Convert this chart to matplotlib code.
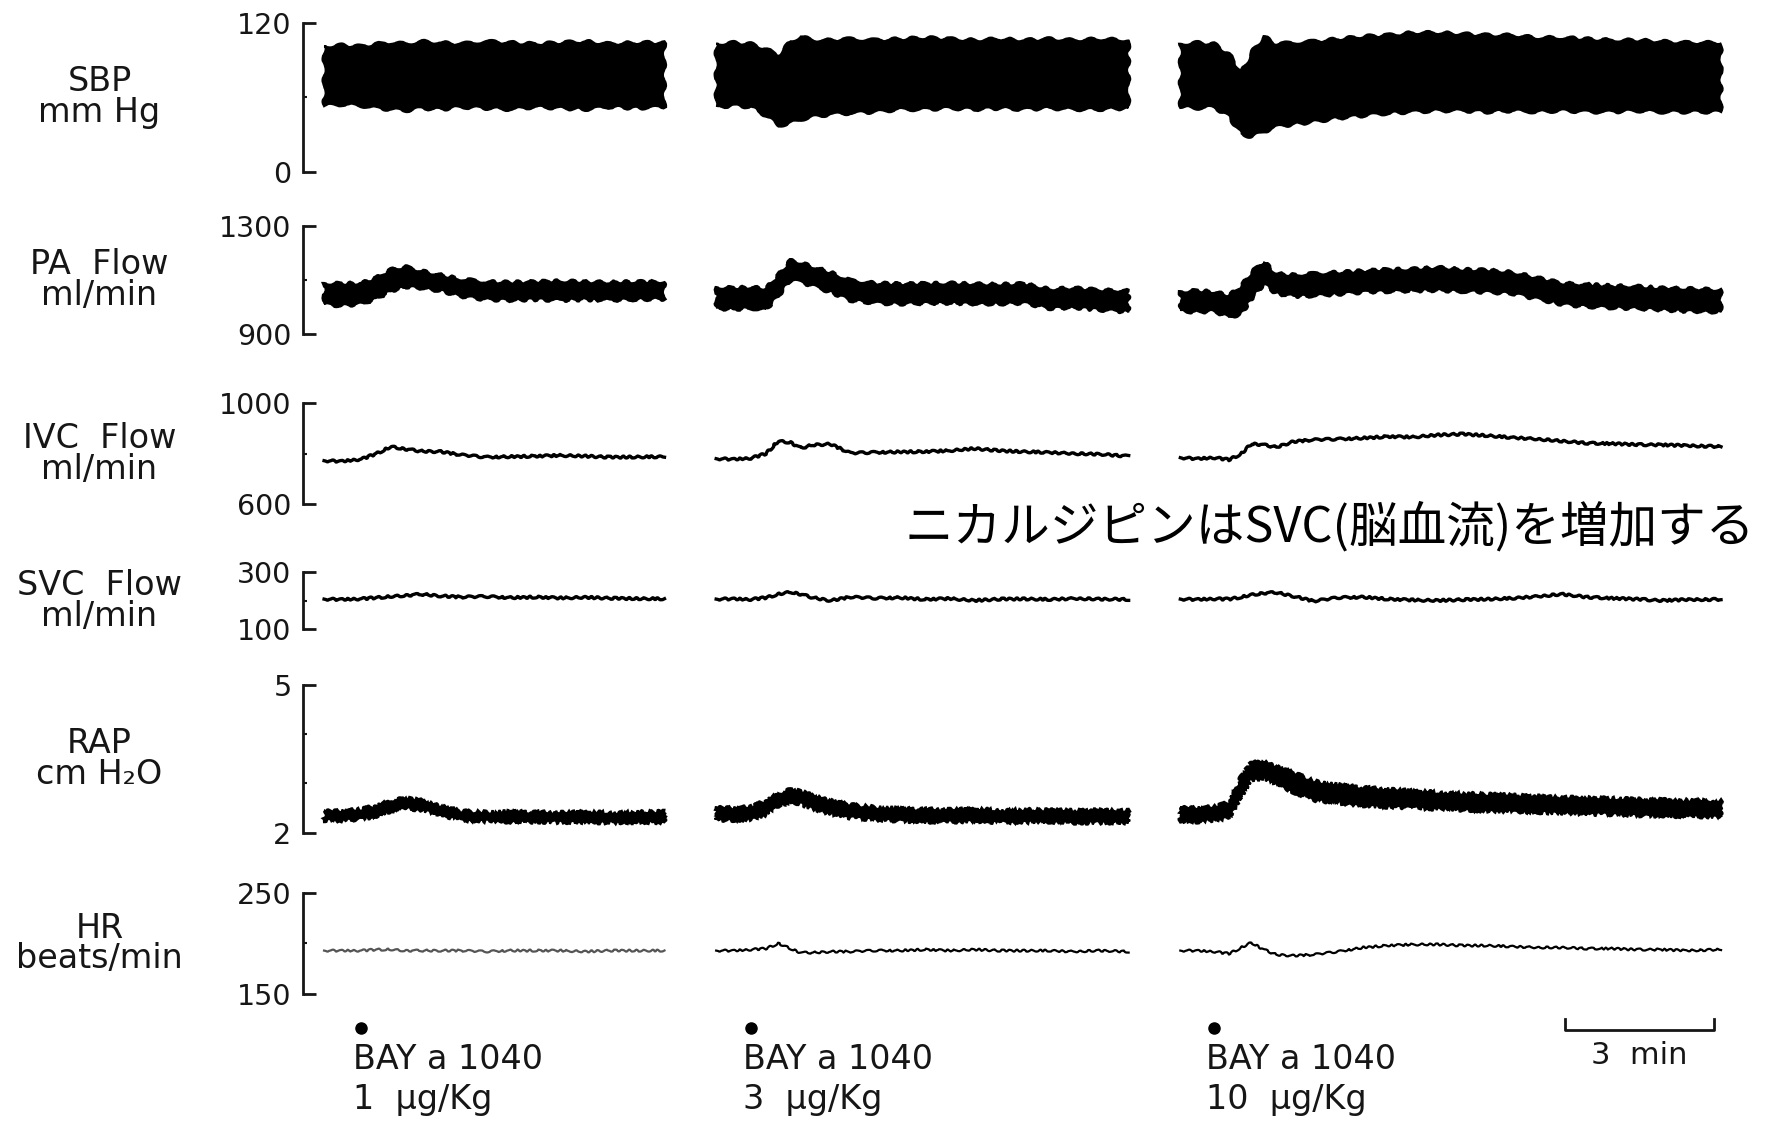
import matplotlib
matplotlib.use("Agg")
import matplotlib.pyplot as plt
import matplotlib.transforms as mtransforms
import numpy as np

# time in minutes relative to each injection, one grid per recording
T1 = [-0.75, -0.4, 0, 0.3, 0.6, 0.9, 1.2, 1.6, 2.0, 2.5, 3.0, 3.5, 4.0, 4.5, 5.0, 5.5, 6.1]
T2 = [-0.7, -0.35, 0, 0.3, 0.55, 0.8, 1.0, 1.25, 1.6, 2.0, 2.5, 3.0, 3.5, 4.0, 4.5, 5.0,
      5.5, 6.0, 6.5, 7.0, 7.6]
T3 = [-0.68, -0.35, 0, 0.3, 0.55, 0.75, 1.0, 1.25, 1.6, 2.0, 2.5, 3.0, 3.5, 4.0, 4.5, 5.0,
      5.5, 6.0, 6.5, 7.0, 7.5, 8.0, 8.5, 9.0, 9.5, 10.2]

# injection time of each recording on the chart's time axis (min)
INJ_AT = [1.18, 9.02, 18.34]
DRUG = "BAY a 1040"
DOSES = ["1  μg/Kg", "3  μg/Kg", "10  μg/Kg"]
SCALE_MIN = 3
SCALE_AT = 25.4

# SBP, mm Hg (pulsatile band: upper / lower envelope)
SBP_HI_1 = [101, 102, 101, 103, 104, 103, 105, 104, 103, 105, 104, 103, 104, 105, 103, 104, 104]
SBP_LO_1 = [53, 54, 53, 51, 50, 49, 51, 50, 52, 51, 50, 52, 51, 50, 52, 51, 52]
SBP_HI_2 = [103, 104, 103, 99, 94, 105, 109, 106, 106, 107, 106, 107, 108, 107, 106, 107, 106,
            107, 106, 107, 106]
SBP_LO_2 = [52, 53, 52, 45, 37, 39, 42, 44, 46, 47, 48, 50, 50, 51, 50, 51, 50, 51, 50, 50, 51]
SBP_HI_3 = [103, 104, 103, 95, 80, 96, 109, 103, 104, 105, 107, 109, 110, 112, 112, 111, 110,
            110, 108, 108, 107, 106, 106, 105, 104, 104]
SBP_LO_3 = [52, 51, 52, 44, 30, 28, 32, 36, 38, 40, 43, 45, 47, 48, 49, 49, 48, 49, 48, 49, 48,
            48, 49, 48, 48, 48]

# PA flow, ml/min (band)
PA_HI_1 = [1090, 1088, 1090, 1110, 1140, 1150, 1135, 1120, 1105, 1095, 1093, 1095, 1098, 1095,
           1093, 1095, 1095]
PA_LO_1 = [1010, 1005, 1012, 1030, 1060, 1075, 1070, 1060, 1040, 1028, 1025, 1028, 1025, 1028,
           1025, 1028, 1030]
PA_HI_2 = [1075, 1072, 1075, 1070, 1120, 1175, 1165, 1150, 1130, 1100, 1090, 1087, 1088, 1090,
           1087, 1085, 1088, 1068, 1072, 1065, 1062]
PA_LO_2 = [995, 992, 996, 990, 1040, 1100, 1092, 1078, 1055, 1025, 1015, 1012, 1014, 1015, 1012,
           1012, 1015, 995, 998, 990, 982]
PA_HI_3 = [1060, 1062, 1058, 1045, 1080, 1130, 1170, 1125, 1120, 1125, 1130, 1135, 1140, 1142,
           1148, 1140, 1138, 1130, 1110, 1090, 1085, 1080, 1078, 1072, 1070, 1065]
PA_LO_3 = [985, 982, 985, 962, 975, 1030, 1085, 1050, 1040, 1042, 1048, 1055, 1058, 1060, 1062,
           1058, 1055, 1050, 1030, 1010, 1002, 998, 995, 990, 985, 982]

# IVC flow, ml/min
IVC_1 = [772, 770, 778, 800, 828, 818, 810, 808, 795, 786, 788, 790, 793, 790, 786, 787, 788]
IVC_2 = [780, 778, 782, 800, 850, 845, 822, 835, 838, 802, 805, 807, 808, 812, 820, 812, 808,
         805, 800, 798, 790]
IVC_3 = [784, 780, 784, 776, 800, 840, 835, 826, 848, 855, 858, 862, 868, 866, 874, 878, 872,
         864, 858, 850, 842, 840, 836, 835, 832, 828]

# SVC flow, ml/min
SVC_1 = [205, 204, 206, 210, 214, 218, 222, 216, 212, 214, 210, 212, 209, 211, 208, 207, 206]
SVC_2 = [205, 206, 204, 210, 222, 230, 222, 210, 200, 212, 208, 210, 204, 207, 200, 205, 206,
         204, 207, 205, 204]
SVC_3 = [205, 204, 206, 205, 212, 220, 226, 228, 215, 198, 210, 212, 205, 202, 200, 203, 205,
         208, 214, 222, 212, 208, 205, 200, 203, 204]

# RAP, cm H2O (band)
RAP_HI_1 = [2.45, 2.44, 2.48, 2.55, 2.66, 2.70, 2.66, 2.55, 2.44, 2.42, 2.43, 2.42, 2.41, 2.42,
            2.41, 2.42, 2.43]
RAP_LO_1 = [2.25, 2.24, 2.28, 2.33, 2.44, 2.49, 2.46, 2.36, 2.25, 2.23, 2.22, 2.22, 2.21, 2.21,
            2.20, 2.21, 2.21]
RAP_HI_2 = [2.52, 2.50, 2.53, 2.65, 2.80, 2.88, 2.84, 2.76, 2.66, 2.57, 2.52, 2.49, 2.48, 2.47,
            2.48, 2.46, 2.47, 2.46, 2.45, 2.46, 2.45]
RAP_LO_2 = [2.26, 2.25, 2.27, 2.36, 2.54, 2.62, 2.58, 2.48, 2.38, 2.30, 2.26, 2.24, 2.22, 2.22,
            2.23, 2.21, 2.21, 2.22, 2.20, 2.20, 2.20]
RAP_HI_3 = [2.52, 2.50, 2.53, 2.62, 3.15, 3.42, 3.45, 3.35, 3.22, 3.05, 2.97, 2.92, 2.88, 2.85,
            2.82, 2.80, 2.78, 2.76, 2.74, 2.72, 2.71, 2.70, 2.68, 2.67, 2.66, 2.65]
RAP_LO_3 = [2.24, 2.22, 2.25, 2.30, 2.75, 3.08, 3.10, 2.98, 2.82, 2.66, 2.60, 2.55, 2.52, 2.50,
            2.48, 2.46, 2.44, 2.43, 2.41, 2.40, 2.38, 2.37, 2.35, 2.34, 2.33, 2.32]

# HR, beats/min
HR_1 = [193, 193, 193, 194, 194, 193, 193, 193, 193, 192, 193, 193, 193, 192, 193, 193, 193]
HR_2 = [193, 193, 194, 195, 200, 195, 191, 191, 192, 192, 193, 193, 194, 193, 194, 193, 193,
        193, 192, 193, 192]
HR_3 = [193, 193, 192, 190, 196, 201, 194, 189, 188, 189, 192, 196, 198, 199, 199, 198, 198,
        197, 196, 196, 195, 195, 194, 194, 193, 194]

ROW_NAMES = ["SBP\nmm Hg", "PA  Flow\nml/min", "IVC  Flow\nml/min", "SVC  Flow\nml/min",
             "RAP\ncm H₂O", "HR\nbeats/min"]
Y_RANGES = [(0, 120), (900, 1300), (600, 1000), (100, 300), (2, 5), (150, 250)]
MINOR_TICKS = [[60], [1100], [800], [200], [3, 4], [200]]

NOTE = "ニカルジピンはSVC(脳血流)を増加する"

TIMES = [T1, T2, T3]
ROWS = [
    ("band", [SBP_HI_1, SBP_HI_2, SBP_HI_3], [SBP_LO_1, SBP_LO_2, SBP_LO_3]),
    ("band", [PA_HI_1, PA_HI_2, PA_HI_3], [PA_LO_1, PA_LO_2, PA_LO_3]),
    ("line", [IVC_1, IVC_2, IVC_3], None),
    ("line", [SVC_1, SVC_2, SVC_3], None),
    ("band", [RAP_HI_1, RAP_HI_2, RAP_HI_3], [RAP_LO_1, RAP_LO_2, RAP_LO_3]),
    ("line", [HR_1, HR_2, HR_3], None),
]
# edge wobble of each band row (scale, length, randomness), in pixels
BAND_SKETCH = {0: (1.6, 22, 2), 1: (1.6, 18, 3), 4: (1.8, 6, 6)}

# layout, measured on the reference (1568 x 993 px)
W, H = 1568.0, 993.0
ROW_BOX = [(20, 152), (200, 296), (357, 446), (506, 557), (606, 737), (790, 880)]
PX_PER_MIN = 44.0
AX_L = 268 / W
AX_W = 0.82
XMAX = AX_W * W / PX_PER_MIN
INK = "#161616"

fig = plt.figure(figsize=(17.71, 11.22), dpi=100)
fig.patch.set_facecolor("white")

axes = []
for i, (kind, hi, lo) in enumerate(ROWS):
    yt, yb = ROW_BOX[i]
    ax = fig.add_axes([AX_L, 1 - yb / H, AX_W, (yb - yt) / H])
    ax.patch.set_alpha(0)
    ax.set_xlim(0, XMAX)
    ax.set_ylim(*Y_RANGES[i])
    for s in ["top", "right", "bottom"]:
        ax.spines[s].set_visible(False)
    ax.spines["left"].set_linewidth(2)
    ax.spines["left"].set_color(INK)
    ax.set_xticks([])
    ax.set_yticks(list(Y_RANGES[i]))
    ax.set_yticklabels([f"{v:g}" for v in Y_RANGES[i]], fontsize=20.5, color=INK)
    ax.set_yticks(MINOR_TICKS[i], minor=True)
    ax.tick_params(axis="y", which="major", direction="in", length=9, width=2,
                   pad=8, color=INK)
    ax.tick_params(axis="y", which="minor", direction="in", length=3, width=1.5, color=INK)

    for k in range(3):
        x = INJ_AT[k] + np.array(TIMES[k])
        if kind == "band":
            xs = np.r_[x, x[::-1]]
            ys = np.r_[np.array(hi[k]), np.array(lo[k])[::-1]]
            poly = ax.fill(xs, ys, facecolor="black", edgecolor="black", lw=1.5,
                           clip_on=False)[0]
            poly.set_sketch_params(*BAND_SKETCH[i])
        else:
            lw = 1.6 if i == 5 else 2.4
            # first HR recording is a faint trace in the original
            col = "#555555" if (i == 5 and k == 0) else "black"
            ln = ax.plot(x, hi[k], color=col, lw=lw, clip_on=False,
                         solid_joinstyle="round")[0]
            ln.set_sketch_params(scale=1.0, length=10, randomness=3)

    fig.text(88 / W, 1 - (yt + yb) / 2 / H, ROW_NAMES[i], ha="center", va="center",
             fontsize=24, linespacing=0.92, color=INK)
    axes.append(ax)

# injection marks, dose labels and time scale bar
hr_ax = axes[-1]
trans = mtransforms.blended_transform_factory(hr_ax.transData, fig.transFigure)
for k in range(3):
    hr_ax.plot([INJ_AT[k]], [1 - 910 / H], "o", color="black", ms=8, transform=trans,
               clip_on=False)
    fig.text(INJ_AT[k] - 0.16, 1 - 938 / H, DRUG, transform=trans, ha="left", va="center",
             fontsize=24, color=INK)
    fig.text(INJ_AT[k] - 0.16, 1 - 973 / H, DOSES[k], transform=trans, ha="left",
             va="center", fontsize=24, color=INK)

hr_ax.plot([SCALE_AT, SCALE_AT, SCALE_AT + SCALE_MIN, SCALE_AT + SCALE_MIN],
           [1 - 902 / H, 1 - 912 / H, 1 - 912 / H, 1 - 902 / H], color=INK, lw=2,
           transform=trans, clip_on=False)
fig.text(SCALE_AT + SCALE_MIN / 2, 1 - 934 / H, f"{SCALE_MIN}  min", transform=trans,
         ha="center", va="center", fontsize=22, color=INK)

fig.text(1177 / W, 1 - 467 / H, NOTE, ha="center", va="center", fontsize=35,
         family=["Noto Sans CJK JP", "DejaVu Sans"], color="black")

fig.savefig("out.png", dpi=100, facecolor="white")
